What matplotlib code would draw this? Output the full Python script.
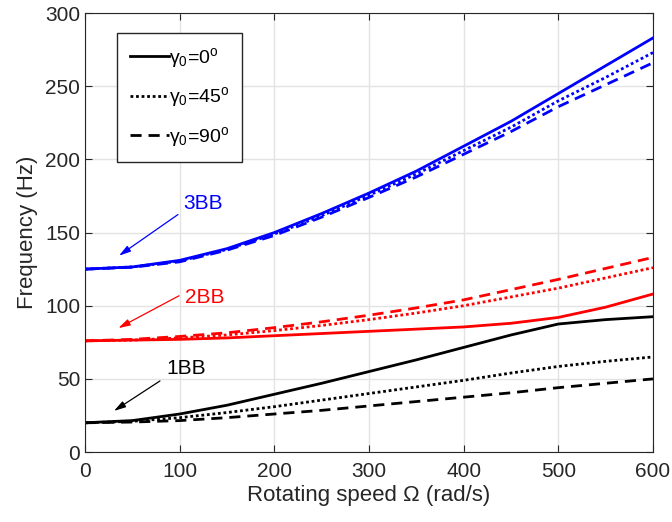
import matplotlib.pyplot as plt
import numpy as np

plt.rcParams['font.family'] = ['Liberation Sans', 'DejaVu Sans']
plt.rcParams['mathtext.fontset'] = 'custom'
plt.rcParams['mathtext.rm'] = 'Liberation Sans'
plt.rcParams['mathtext.it'] = 'Liberation Sans'

omega = [0, 50, 100, 150, 200, 250, 300, 350, 400, 450, 500, 550, 600]

bb3_0 = [125, 126.5, 131, 139, 150, 163, 177, 192, 209, 226, 245, 264, 283]
bb3_45 = [125, 126.5, 130.5, 138.5, 149, 161.5, 175.5, 190, 206, 222, 240, 256, 273]
bb3_90 = [125, 126.3, 130, 138, 148, 160.5, 174, 188, 203.5, 219, 236, 251, 266]

bb2_0 = [76, 76.5, 77, 78, 79.5, 81, 82.5, 84, 85.5, 88, 92, 99, 108]
bb2_45 = [76, 76.5, 78, 80, 83, 86.5, 90.5, 95, 100, 106, 112, 119, 126]
bb2_90 = [76, 77, 79, 81.5, 85, 89, 93.5, 98.5, 104, 111, 118, 125.5, 133]

bb1_0 = [20, 21.5, 26, 32, 39.5, 47, 55, 63, 71.5, 80, 87.5, 90.5, 92.5]
bb1_45 = [20, 21, 23.5, 27, 31, 35.5, 40, 44.5, 49, 54, 58.5, 62, 65]
bb1_90 = [20, 20.5, 21.5, 23.5, 26, 28.5, 31.5, 34.5, 37.5, 40.5, 44, 47, 50]

labels = ['γ$_0$=0$^\\mathrm{o}$', 'γ$_0$=45$^\\mathrm{o}$', 'γ$_0$=90$^\\mathrm{o}$']

fig = plt.figure(figsize=(6.72, 5.22), dpi=100)
ax = fig.add_axes([0.1265, 0.134, 0.8452, 0.841])

lw = 2
dot = (0, (1, 1))
dash = (0, (4, 2.5))
# legend handles (black)
h0, = ax.plot(omega, bb1_0, 'k-', lw=lw, label=labels[0])
h45, = ax.plot(omega, bb1_45, 'k', ls=dot, lw=lw, label=labels[1])
h90, = ax.plot(omega, bb1_90, 'k', ls=dash, lw=lw, label=labels[2])

ax.plot(omega, bb2_0, '-', color='#ff0000', lw=lw)
ax.plot(omega, bb2_45, color='#ff0000', ls=dot, lw=lw)
ax.plot(omega, bb2_90, color='#ff0000', ls=dash, lw=lw)

ax.plot(omega, bb3_0, '-', color='#0000ff', lw=lw)
ax.plot(omega, bb3_45, color='#0000ff', ls=dot, lw=lw)
ax.plot(omega, bb3_90, color='#0000ff', ls=dash, lw=lw)

# annotations
def note(txt, tpos, tail, head, c):
    ax.text(tpos[0], tpos[1], txt, color=c, fontsize=15, va='center', ha='left')
    ax.annotate('', xy=head, xytext=tail,
                arrowprops=dict(arrowstyle='-|>,head_length=0.7,head_width=0.2',
                                color=c, lw=0.9, shrinkA=0, shrinkB=0))

note('3BB', (103.5, 170), (98.2, 162.3), (35.9, 134.2), '#0000ff')
note('2BB', (105.6, 105.3), (99.3, 106.8), (35.2, 84.7), '#ff0000')
note('1BB', (85.6, 56.8), (79.2, 48.6), (30.6, 28.1), 'k')

ax.set_xlim(0, 600)
ax.set_ylim(0, 300)
ax.set_xticks(np.arange(0, 601, 100))
ax.set_yticks(np.arange(0, 301, 50))
ax.grid(True, color='#e3e3e3', lw=1)
ax.set_axisbelow(True)
ax.tick_params(direction='in', labelsize=15, colors='#262626', top=True, right=True, length=5)
ax.tick_params(axis='x', pad=7)
for s in ax.spines.values():
    s.set_color('#262626')
ax.set_xlabel('Rotating speed Ω (rad/s)', fontsize=16, color='#262626', labelpad=3)
ax.set_ylabel('Frequency (Hz)', fontsize=16, color='#262626', labelpad=5)

leg = ax.legend(handles=[h0, h45, h90], loc='upper left', bbox_to_anchor=(0.0563, 0.954),
                fontsize=14, fancybox=False, edgecolor='#262626', framealpha=1,
                handlelength=2.0, handletextpad=0.05, labelspacing=0.8, borderpad=0.65,
                borderaxespad=0)
leg.get_frame().set_linewidth(1)

fig.savefig('out.png', dpi=100)
